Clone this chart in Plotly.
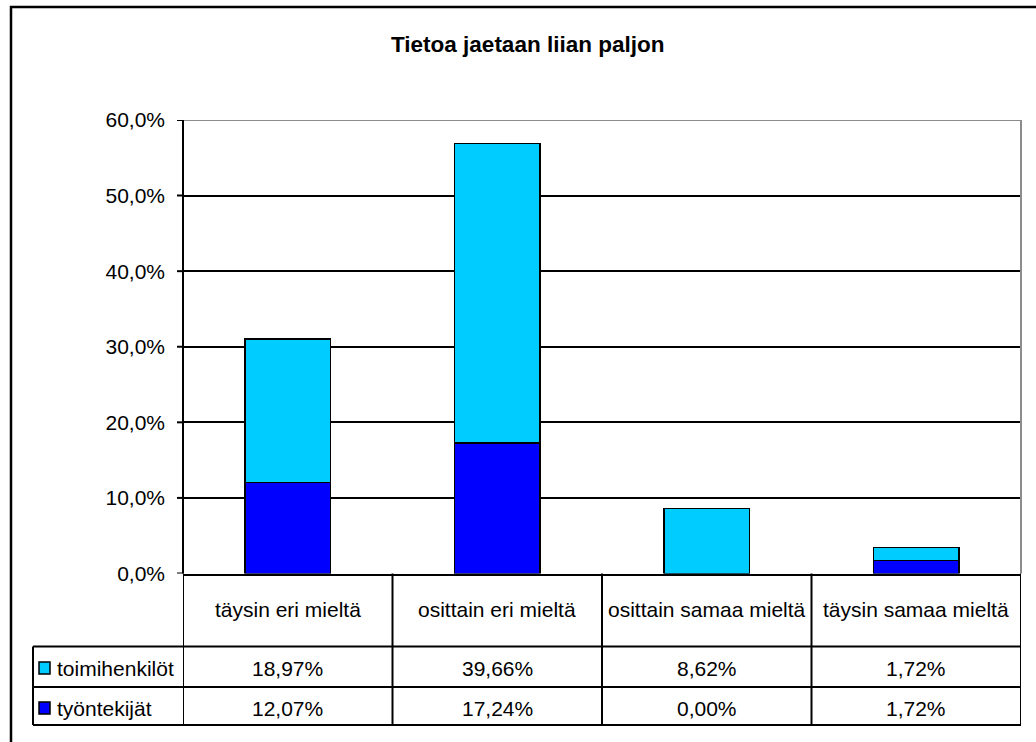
import plotly.graph_objects as go

# Survey answers: "Tietoa jaetaan liian paljon"
categories = ["täysin eri mieltä", "osittain eri mieltä", "osittain samaa mieltä", "täysin samaa mieltä"]
series_names = ["toimihenkilöt", "työntekijät"]
toimihenkilot = [18.97, 39.66, 8.62, 1.72]
tyontekijat = [12.07, 17.24, 0.00, 1.72]
y_ticks = [0, 10, 20, 30, 40, 50, 60]
y_tick_labels = ["0,0%", "10,0%", "20,0%", "30,0%", "40,0%", "50,0%", "60,0%"]

W, H = 1036, 742
LIGHT = "#00CCFF"
DARK = "#0000FF"
FONT = "Liberation Sans, Arial, sans-serif"


def px_x(v):
    return v / W


def px_y(v):
    return 1 - v / H


x_dom = [px_x(183), px_x(1021)]
y_dom = [px_y(573.5), px_y(120)]

fig = go.Figure()
fig.add_trace(go.Bar(x=list(range(len(categories))), y=tyontekijat, name=series_names[1],
                     marker=dict(color=DARK, line=dict(color="black", width=1.5)),
                     width=0.41, showlegend=False))
fig.add_trace(go.Bar(x=list(range(len(categories))), y=toimihenkilot, name=series_names[0],
                     marker=dict(color=LIGHT, line=dict(color="black", width=1.5)),
                     width=0.41, showlegend=False))

shapes = []
# outer chart frame
shapes.append(dict(type="rect", xref="paper", yref="paper", x0=px_x(11), x1=px_x(1045),
                   y0=px_y(750), y1=px_y(7), line=dict(color="black", width=2.5)))
# plot area border: grey top and right edges
shapes.append(dict(type="line", xref="paper", yref="y", x0=x_dom[0], x1=x_dom[1], y0=60, y1=60,
                   line=dict(color="#8c8c8c", width=2)))
shapes.append(dict(type="line", xref="paper", yref="paper", x0=x_dom[1], x1=x_dom[1],
                   y0=y_dom[0], y1=y_dom[1], line=dict(color="#8c8c8c", width=2)))
# value axis line and its tick marks
shapes.append(dict(type="line", xref="paper", yref="paper", x0=x_dom[0], x1=x_dom[0],
                   y0=y_dom[0], y1=y_dom[1], line=dict(color="black", width=2)))
for t in y_ticks:
    shapes.append(dict(type="line", xref="paper", yref="y", x0=x_dom[0] - px_x(6), x1=x_dom[0],
                       y0=t, y1=t, line=dict(color="black", width=2)))

# data table grid
row_lines = [646.5, 687, 725]
for r in row_lines:
    shapes.append(dict(type="line", xref="paper", yref="paper", x0=px_x(33), x1=x_dom[1],
                       y0=px_y(r), y1=px_y(r), line=dict(color="black", width=2)))
shapes.append(dict(type="line", xref="paper", yref="paper", x0=px_x(33), x1=px_x(33),
                   y0=px_y(646.5), y1=px_y(725), line=dict(color="black", width=2)))
for i in range(len(categories) + 1):
    shapes.append(dict(type="line", xref="x", yref="paper", x0=i - 0.5, x1=i - 0.5,
                       y0=y_dom[0], y1=px_y(725), line=dict(color="black", width=2)))

# legend keys inside the table
row_centers = [668, 708]
for rc, col in zip(row_centers, [LIGHT, DARK]):
    shapes.append(dict(type="rect", xref="paper", yref="paper", x0=px_x(39), x1=px_x(50),
                       y0=px_y(rc + 6), y1=px_y(rc - 6), fillcolor=col,
                       line=dict(color="black", width=1.5)))

annotations = []
annotations.append(dict(text="<b>Tietoa jaetaan liian paljon</b>", xref="paper", yref="paper",
                        x=px_x(527), y=px_y(44), showarrow=False, xanchor="center", yanchor="middle",
                        font=dict(family=FONT, size=22.5, color="black")))
for i, c in enumerate(categories):
    annotations.append(dict(text=c, xref="x", yref="paper", x=i, y=px_y(609), showarrow=False,
                            xanchor="center", yanchor="middle",
                            font=dict(family=FONT, size=21, color="black")))


def fmt(v):
    return f"{v:.2f}".replace(".", ",") + "%"


for rc, name, vals in zip(row_centers, series_names, [toimihenkilot, tyontekijat]):
    annotations.append(dict(text=name, xref="paper", yref="paper", x=px_x(55), y=px_y(rc),
                            showarrow=False, xanchor="left", yanchor="middle",
                            font=dict(family=FONT, size=21, color="black")))
    for i, v in enumerate(vals):
        annotations.append(dict(text=fmt(v), xref="x", yref="paper", x=i, y=px_y(rc),
                                showarrow=False, xanchor="center", yanchor="middle",
                                font=dict(family=FONT, size=21, color="black")))

fig.update_layout(
    width=W, height=H, barmode="stack", bargap=0.59,
    margin=dict(l=0, r=0, t=0, b=0, autoexpand=False),
    paper_bgcolor="white", plot_bgcolor="white",
    xaxis=dict(domain=x_dom, range=[-0.5, len(categories) - 0.5], showticklabels=False,
               showgrid=False, zeroline=False, showline=True, linecolor="black", linewidth=2,
               ticks="", fixedrange=True, automargin=False),
    yaxis=dict(domain=y_dom, range=[0, 60], tickvals=y_ticks, ticktext=y_tick_labels,
               showgrid=True, gridcolor="black", gridwidth=1.5, zeroline=False,
               showline=False, ticks="", ticklabelstandoff=17, automargin=False,
               tickfont=dict(family=FONT, size=21, color="black"), fixedrange=True),
    shapes=shapes, annotations=annotations, showlegend=False,
)

fig.write_html("out.html")
